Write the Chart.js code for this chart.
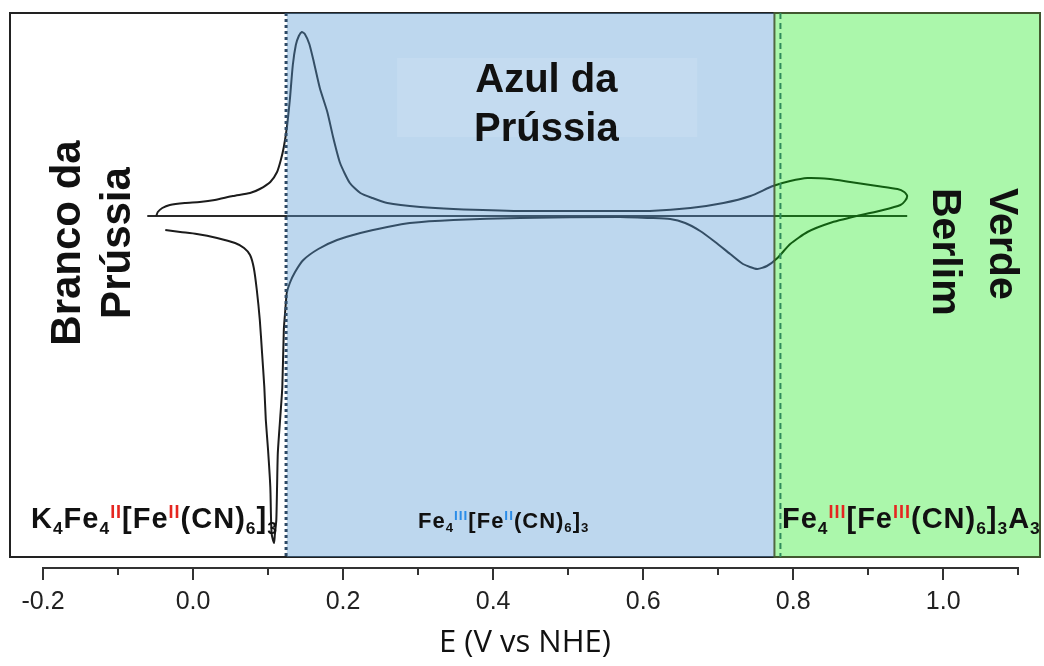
<!DOCTYPE html>
<html lang="pt">
<head>
<meta charset="utf-8">
<title>Voltametria cíclica - Azul da Prússia</title>
<script src="https://cdn.jsdelivr.net/npm/chart.js@4.4.1/dist/chart.umd.min.js"></script>
<style>
  html, body { margin: 0; padding: 0; background: #fff; }
  #grafico { display: block; }
</style>
</head>
<body>
<canvas id="grafico" width="1044" height="666"></canvas>
<script>
// Voltamograma cíclico: E (V vs NHE) e corrente (u.a.)
const potencialCV = [-0.049, -0.047, -0.041, -0.031, -0.011, 0.009, 0.029, 0.053, 0.076, 0.089,
  0.103, 0.112, 0.117, 0.121, 0.125, 0.129, 0.133, 0.137, 0.141, 0.145,
  0.149, 0.155, 0.161, 0.169, 0.179, 0.187, 0.196, 0.209, 0.223, 0.239,
  0.259, 0.303, 0.347, 0.436, 0.569, 0.609, 0.663, 0.707, 0.743, 0.773,
  0.796, 0.819, 0.849, 0.876, 0.912, 0.939, 0.948, 0.952, 0.949, 0.943,
  0.920, 0.885, 0.849, 0.819, 0.796, 0.779, 0.765, 0.752, 0.733, 0.716,
  0.696, 0.676, 0.656, 0.636, 0.609, 0.569, 0.436, 0.347, 0.289, 0.259,
  0.223, 0.192, 0.167, 0.147, 0.136, 0.129, 0.125, 0.123, 0.121, 0.119,
  0.116, 0.113, 0.112, 0.111, 0.109, 0.108, 0.105, 0.104, 0.103, 0.100,
  0.097, 0.095, 0.092, 0.089, 0.085, 0.081, 0.076, 0.068, 0.056, 0.032,
  0.005, -0.017, -0.037];
const correnteCV = [0.0, 0.4, 0.8, 1.1, 1.3, 1.4, 1.6, 2.0, 2.3, 2.7,
  3.4, 4.4, 5.6, 6.9, 8.8, 11.6, 15.1, 17.1, 18.0, 18.4,
  18.2, 17.2, 15.4, 12.8, 10.4, 7.8, 5.3, 3.3, 2.3, 1.8,
  1.3, 0.9, 0.7, 0.5, 0.5, 0.5, 0.8, 1.3, 2.0, 3.0,
  3.5, 3.8, 3.7, 3.4, 3.0, 2.7, 2.4, 2.0, 1.5, 1.1,
  0.6, 0.0, -0.7, -1.6, -2.8, -4.2, -5.0, -5.3, -4.8, -3.8,
  -2.6, -1.5, -0.7, -0.3, -0.2, -0.1, -0.2, -0.4, -0.7, -1.1,
  -1.7, -2.4, -3.3, -4.4, -5.6, -6.7, -7.7, -9.4, -11.4, -17.1,
  -20.4, -23.7, -27.1, -30.4, -31.9, -32.7, -31.9, -30.4, -27.1, -23.4,
  -20.4, -17.1, -13.7, -10.4, -7.4, -5.2, -3.9, -3.2, -2.7, -2.2,
  -1.8, -1.6, -1.4];

// linha de corrente zero
const potencialZero = [-0.061, 0.952];
const correnteZero = [0, 0];

// fronteiras entre as fases (V)
const inicioAzul = 0.125;
const inicioVerde = 0.775;
const linhaPontilhadaAzul = 0.124;
const linhaTracejadaVerde = 0.783;

// eixo E
const ticksE = [-0.2, -0.1, 0.0, 0.1, 0.2, 0.3, 0.4, 0.5, 0.6, 0.7, 0.8, 0.9, 1.0, 1.1];
const eMin = -0.244, eMax = 1.129;
const iMin = -34.1, iMax = 20.3;

// fórmulas de cada fase: [texto, tipo]
const formulaBranco = [['K', ''], ['4', 'sub'], ['Fe', ''], ['4', 'sub'], ['II', 'sup'], ['[Fe', ''], ['II', 'sup'],
  ['(CN)', ''], ['6', 'sub'], [']', ''], ['3', 'sub']];
const formulaAzul = [['Fe', ''], ['4', 'sub'], ['III', 'sup'], ['[Fe', ''], ['II', 'sup'],
  ['(CN)', ''], ['6', 'sub'], [']', ''], ['3', 'sub']];
const formulaVerde = [['Fe', ''], ['4', 'sub'], ['III', 'sup'], ['[Fe', ''], ['III', 'sup'],
  ['(CN)', ''], ['6', 'sub'], [']', ''], ['3', 'sub'], ['A', ''], ['3', 'sub']];

const FONTE = '"Liberation Sans", Arial, sans-serif';

function desenharFormula(ctx, x, y, partes, tam, corSup) {
  for (const [t, tipo] of partes) {
    let f = tam, dy = 0, cor = '#111';
    if (tipo === 'sub') { f = tam * 0.6; dy = tam * 0.2; }
    if (tipo === 'sup') { f = tam * 0.62; dy = -tam * 0.36; cor = corSup; }
    ctx.font = `bold ${f}px ${FONTE}`;
    ctx.fillStyle = cor;
    ctx.fillText(t, x, y + dy);
    x += ctx.measureText(t).width;
  }
}

const fases = {
  id: 'fases',
  beforeDatasetsDraw(chart) {
    const { ctx, chartArea: a } = chart;
    // moldura
    ctx.save();
    ctx.strokeStyle = '#222';
    ctx.lineWidth = 2;
    ctx.strokeRect(a.left, a.top, a.right - a.left, a.bottom - a.top);
    ctx.restore();
  },
  afterDatasetsDraw(chart) {
    const { ctx, chartArea: a, scales: { x, y } } = chart;
    const xa = x.getPixelForValue(inicioAzul);
    const xv = x.getPixelForValue(inicioVerde);
    ctx.save();
    // regiões coloridas por cima da curva
    ctx.fillStyle = 'rgba(91,155,213,0.4)';
    ctx.fillRect(xa, a.top, xv - xa, a.bottom - a.top);
    ctx.fillStyle = 'rgba(0,232,0,0.33)';
    ctx.fillRect(xv, a.top, a.right - xv, a.bottom - a.top);
    // caixa clara do título azul
    ctx.fillStyle = 'rgba(255,255,255,0.1)';
    const bx0 = x.getPixelForValue(0.272), bx1 = x.getPixelForValue(0.672);
    const by0 = y.getPixelForValue(15.8), by1 = y.getPixelForValue(7.9);
    ctx.fillRect(bx0, by0, bx1 - bx0, by1 - by0);
    // contorno da região verde
    ctx.strokeStyle = 'rgba(70,90,50,0.9)';
    ctx.lineWidth = 2;
    ctx.strokeRect(xv, a.top, a.right - xv, a.bottom - a.top);
    // linhas verticais
    ctx.lineWidth = 3;
    ctx.strokeStyle = '#2e4a66';
    ctx.setLineDash([3, 3]);
    let px = x.getPixelForValue(linhaPontilhadaAzul);
    ctx.beginPath(); ctx.moveTo(px, a.top); ctx.lineTo(px, a.bottom); ctx.stroke();
    ctx.lineWidth = 2;
    ctx.strokeStyle = '#2f8a5a';
    ctx.setLineDash([6, 4]);
    px = x.getPixelForValue(linhaTracejadaVerde);
    ctx.beginPath(); ctx.moveTo(px, a.top); ctx.lineTo(px, a.bottom); ctx.stroke();
    ctx.restore();
  },
  afterDraw(chart) {
    const { ctx, chartArea: a, scales: { x } } = chart;
    ctx.save();
    // eixo E com marcas
    const y0 = a.bottom + 11;
    ctx.strokeStyle = '#333';
    ctx.lineWidth = 2;
    ctx.beginPath();
    ctx.moveTo(x.getPixelForValue(ticksE[0]), y0);
    ctx.lineTo(x.getPixelForValue(ticksE[ticksE.length - 1]), y0);
    ticksE.forEach((v) => {
      const px = Math.round(x.getPixelForValue(v));
      const maior = Math.abs(Math.round(v * 10)) % 2 === 0;
      ctx.moveTo(px, y0 - 1);
      ctx.lineTo(px, y0 + (maior ? 12 : 7));
    });
    ctx.stroke();

    // nomes das fases
    ctx.fillStyle = '#111';
    ctx.font = `bold 42px ${FONTE}`;
    ctx.textAlign = 'center';
    ctx.textBaseline = 'alphabetic';
    ctx.save();
    ctx.translate(80, 243);
    ctx.rotate(-Math.PI / 2);
    ctx.fillText('Branco da', 0, 0);
    ctx.fillText('Prússia', 0, 50);
    ctx.restore();

    ctx.font = `bold 40px ${FONTE}`;
    ctx.fillText('Azul da', x.getPixelForValue(0.471), 92);
    ctx.fillText('Prússia', x.getPixelForValue(0.471), 141);

    ctx.save();
    ctx.textAlign = 'left';
    ctx.translate(990, 188);
    ctx.rotate(Math.PI / 2);
    ctx.font = `bold 41px ${FONTE}`;
    ctx.fillText('Verde', 0, 0);
    ctx.fillText('Berlim', 0, 57);
    ctx.restore();

    // fórmulas
    ctx.textAlign = 'left';
    ctx.letterSpacing = '1px';
    desenharFormula(ctx, 31, 528, formulaBranco, 29, '#e52620');
    desenharFormula(ctx, 418, 528, formulaAzul, 22, '#2a8ce8');
    ctx.beginPath();
    ctx.rect(a.left, a.top, a.right - a.left, a.bottom - a.top);
    ctx.clip();
    desenharFormula(ctx, 782, 528, formulaVerde, 29, '#e52620');
    ctx.restore();
  }
};

new Chart(document.getElementById('grafico'), {
  type: 'scatter',
  data: {
    datasets: [
      {
        data: potencialCV.map((v, i) => ({ x: v, y: correnteCV[i] })),
        showLine: true,
        borderColor: '#1c1c1c',
        borderWidth: 2,
        tension: 0.2,
        pointRadius: 0,
        fill: false
      },
      {
        data: potencialZero.map((v, i) => ({ x: v, y: correnteZero[i] })),
        showLine: true,
        borderColor: '#2a2a2a',
        borderWidth: 2,
        pointRadius: 0
      }
    ]
  },
  options: {
    responsive: false,
    animation: false,
    devicePixelRatio: 1,
    layout: { padding: { left: 10, right: 4, top: 13, bottom: 0 } },
    plugins: { legend: { display: false }, tooltip: { enabled: false } },
    scales: {
      x: {
        type: 'linear',
        min: eMin,
        max: eMax,
        afterBuildTicks: (s) => { s.ticks = ticksE.map((v) => ({ value: v })); },
        afterFit: (s) => {
          s.height = 109;
          s.paddingLeft = 0;
          s.paddingRight = 0;
        },
        grid: { display: false, drawTicks: false },
        border: { display: false },
        ticks: {
          autoSkip: false,
          maxRotation: 0,
          minRotation: 0,
          padding: 30,
          color: '#222',
          font: { family: FONTE, size: 25 },
          callback: (v) => (Math.abs(Math.round(v * 10)) % 2 === 0 ? Number(v).toFixed(1) : '')
        },
        title: {
          display: true,
          text: 'E (V vs NHE)',
          color: '#111',
          font: { family: '"Open Sans", sans-serif', size: 31 },
          padding: { top: 0, bottom: 4 }
        }
      },
      y: { display: false, min: iMin, max: iMax }
    }
  },
  plugins: [fases]
});
</script>
</body>
</html>
